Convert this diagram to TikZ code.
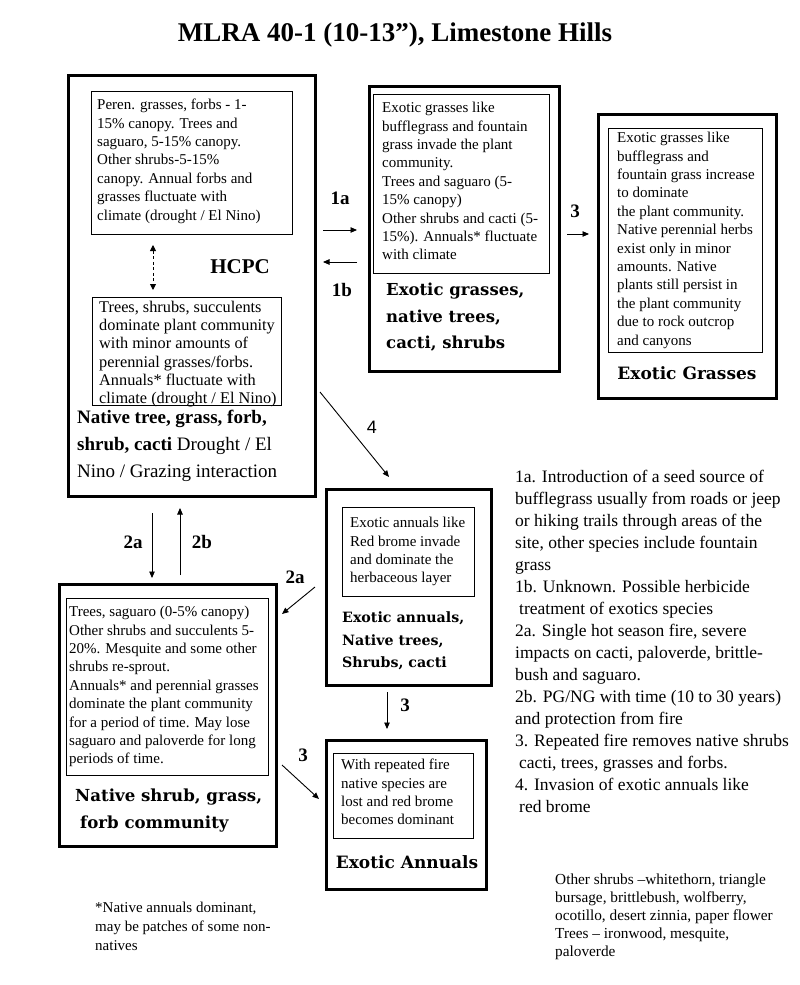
\documentclass[tikz,border=0pt]{standalone}
\usepackage{fontspec}
\setmainfont{Liberation Serif}
\newfontfamily\dvs{DejaVu Serif}
\newfontfamily\lsans{Liberation Sans}
\usetikzlibrary{arrows.meta}
\begin{document}
\begin{tikzpicture}[x=1pt,y=-1pt,
  outerbox/.style={draw, line width=3.2pt, anchor=north west, inner sep=0pt},
  innerbox/.style={draw, line width=0.9pt, anchor=north west, inner sep=0pt},
  txt/.style={anchor=north west, inner sep=0pt, align=left, font=\fontsize{15}{18.4}\selectfont},
  notetxt/.style={anchor=north west, inner sep=0pt, align=left, font=\fontsize{17.5}{22}\selectfont},
  smalltxt/.style={anchor=north west, inner sep=0pt, align=left, font=\fontsize{15}{18.5}\selectfont},
  boldlab/.style={anchor=north west, inner sep=0pt, align=left, font=\dvs\bfseries\fontsize{16.5}{26.5}\selectfont},
  arrlab/.style={inner sep=0pt, font=\bfseries\fontsize{19}{22}\selectfont},
  arr/.style={line width=0.9pt, -{Triangle[length=6.5pt,width=5.5pt]}}
]
\useasboundingbox[fill=white] (0,0) rectangle (800,985);

% title
\node[font=\bfseries\fontsize{27}{30}\selectfont] (title) at (395,35) {MLRA 40-1 (10-13”), Limestone Hills};

% ---- HCPC box
\node[outerbox, minimum width=247pt, minimum height=421pt] (hcpc) at (67,74) {};
\node[innerbox, minimum width=201pt, minimum height=143pt] (hcpca) at (91,91) {};
\node[innerbox, minimum width=189pt, minimum height=108pt] (hcpcb) at (92,297) {};
\node[txt] (ta) at (97,99) {Peren. grasses, forbs - 1-\\15\%  canopy. Trees and\\saguaro, 5-15\% canopy.\\Other shrubs-5-15\%\\canopy. Annual forbs and\\grasses fluctuate with\\climate (drought / El Nino)};
\node[txt, font=\fontsize{16.3}{18.2}\selectfont] (tb) at (99,301) {Trees, shrubs, succulents\\dominate plant community\\with minor amounts of\\perennial grasses/forbs.\\Annuals* fluctuate with\\climate (drought / El Nino)};
\node[font=\bfseries\fontsize{21}{24}\selectfont, inner sep=0pt] (hcpclab) at (240,267) {HCPC};
\node[anchor=north west, inner sep=0pt, align=left, font=\fontsize{19}{27}\selectfont] (hcpcname) at (77,410) {\textbf{Native tree, grass, forb,}\\\textbf{shrub, cacti} Drought / El\\Nino / Grazing interaction};
\coordinate (dA) at (153,245);
\coordinate (dB) at (153,290);
\draw[line width=0.9pt, dash pattern=on 3pt off 2.5pt, {Triangle[length=6pt,width=6pt]}-{Triangle[length=6pt,width=6pt]}] (dA) -- (dB);

% ---- Exotic grasses, native trees box
\node[outerbox, minimum width=190pt, minimum height=285pt] (egnt) at (368,85) {};
\node[innerbox, minimum width=176pt, minimum height=179pt] (egnti) at (373,94) {};
\node[txt] (tc) at (382,102) {Exotic grasses like\\bufflegrass and fountain\\grass invade the plant\\community.\\Trees and saguaro (5-\\15\% canopy)\\Other shrubs and cacti (5-\\15\%). Annuals* fluctuate\\with climate};
\node[boldlab] (egntlab) at (386,283) {Exotic grasses,\\native trees,\\cacti, shrubs};

% ---- Exotic Grasses box
\node[outerbox, minimum width=178pt, minimum height=284pt] (eg) at (597,113) {};
\node[innerbox, minimum width=154pt, minimum height=224pt] (egi) at (608,128) {};
\node[txt] (td) at (617,132) {Exotic grasses like\\bufflegrass and\\fountain grass increase\\to dominate\\the plant community.\\Native perennial herbs\\exist only in minor\\amounts. Native\\plants still persist in\\the plant community\\due to rock outcrop\\and canyons};
\node[font=\dvs\bfseries\fontsize{17}{20}\selectfont, inner sep=0pt] (eglab) at (687,373) {Exotic Grasses};

% ---- Exotic annuals, native trees box
\node[outerbox, minimum width=165pt, minimum height=196pt] (eant) at (325,488) {};
\node[innerbox, minimum width=132pt, minimum height=89pt] (eanti) at (342,507) {};
\node[txt] (te) at (350,517) {Exotic annuals like\\Red brome invade\\and dominate the\\herbaceous layer};
\node[boldlab, font=\dvs\bfseries\fontsize{14.2}{22.5}\selectfont] (eantlab) at (342,612) {Exotic annuals,\\Native trees,\\Shrubs, cacti};

% ---- Native shrub box
\node[outerbox, minimum width=217pt, minimum height=262pt] (nsg) at (58,583) {};
\node[innerbox, minimum width=202pt, minimum height=177pt] (nsgi) at (66,598) {};
\node[txt] (tf) at (69,606) {Trees, saguaro (0-5\% canopy)\\Other shrubs and succulents 5-\\20\%. Mesquite and some other\\shrubs re-sprout.\\Annuals* and perennial grasses\\dominate  the plant community\\for a period of time. May lose\\saguaro and paloverde for long\\periods of time.};
\node[boldlab, font=\dvs\bfseries\fontsize{16.6}{27}\selectfont] (nsglab) at (75,789) {Native shrub, grass,\\\hspace*{5pt}forb community};

% ---- Exotic Annuals box
\node[outerbox, minimum width=160pt, minimum height=149pt] (ea) at (325,739) {};
\node[innerbox, minimum width=140pt, minimum height=85pt] (eai) at (333,753) {};
\node[txt] (tg) at (341,759) {With repeated fire\\native species are\\lost and red brome\\becomes dominant};
\node[font=\dvs\bfseries\fontsize{17}{20}\selectfont, inner sep=0pt] (ealab) at (407,862) {Exotic Annuals};

% ---- arrows
\coordinate (a1s) at (323,230); \coordinate (a1e) at (357,230);
\draw[arr] (a1s) -- (a1e);
\node[arrlab] (l1a) at (340,198) {1a};
\coordinate (b1s) at (357,262); \coordinate (b1e) at (323,262);
\draw[arr] (b1s) -- (b1e);
\node[arrlab] (l1b) at (342,290) {1b};
\coordinate (c3s) at (567,234); \coordinate (c3e) at (589,234);
\draw[arr] (c3s) -- (c3e);
\node[arrlab] (l3a) at (575,211) {3};
\coordinate (d4s) at (320,392); \coordinate (d4e) at (389,477);
\draw[arr] (d4s) -- (d4e);
\node[inner sep=0pt, font=\lsans\fontsize{18}{20}\selectfont] (l4) at (372,427) {4};
\coordinate (e2s) at (152,513); \coordinate (e2e) at (152,578);
\draw[arr] (e2s) -- (e2e);
\node[arrlab] (l2a) at (133,542) {2a};
\coordinate (f2s) at (180,575); \coordinate (f2e) at (180,508);
\draw[arr] (f2s) -- (f2e);
\node[arrlab] (l2b) at (202,542) {2b};
\coordinate (g2s) at (315,587); \coordinate (g2e) at (282,614);
\draw[arr] (g2s) -- (g2e);
\node[arrlab] (l2c) at (295,577) {2a};
\coordinate (h3s) at (387,692); \coordinate (h3e) at (387,729);
\draw[arr] (h3s) -- (h3e);
\node[arrlab] (l3b) at (405,705) {3};
\coordinate (i3s) at (282,765); \coordinate (i3e) at (319,799);
\draw[arr] (i3s) -- (i3e);
\node[arrlab] (l3c) at (303,755) {3};

% ---- notes
\node[notetxt] (notes) at (515,470) {1a. Introduction of a seed source of\\bufflegrass usually from roads or jeep\\or hiking trails  through areas of  the\\site, other species include fountain\\grass\\1b. Unknown. Possible herbicide\\\hspace*{4pt}treatment of exotics species\\2a. Single hot season fire, severe\\impacts on cacti, paloverde, brittle-\\bush and saguaro.\\2b. PG/NG with time (10 to 30 years)\\and protection from fire\\3. Repeated fire removes native shrubs\\\hspace*{4pt}cacti, trees, grasses and forbs.\\4. Invasion of exotic annuals like\\\hspace*{4pt}red brome};

\node[smalltxt, font=\fontsize{15}{19}\selectfont] (foot) at (95,902) {*Native annuals dominant,\\may be patches of some non-\\natives};
\node[smalltxt, font=\fontsize{15.3}{18}\selectfont] (other) at (555,874) {Other shrubs –whitethorn, triangle\\bursage, brittlebush, wolfberry,\\ocotillo, desert zinnia, paper flower\\Trees – ironwood, mesquite,\\paloverde};
\end{tikzpicture}
\end{document}
